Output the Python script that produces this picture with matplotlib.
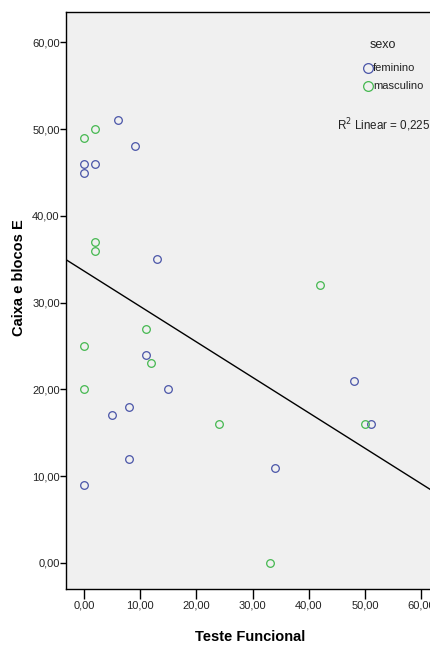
import numpy as np
import matplotlib
matplotlib.use("Agg")
import matplotlib.pyplot as plt

plt.rcParams['font.family'] = ['Liberation Sans', 'DejaVu Sans']

fem_x = [6, 9, 0, 0, 2, 13, 11, 15, 8, 5, 8, 0, 34, 48, 51]
fem_y = [51, 48, 46, 45, 46, 35, 24, 20, 18, 17, 12, 9, 11, 21, 16]
mas_x = [0, 2, 2, 2, 42, 11, 0, 12, 0, 24, 50, 33]
mas_y = [49, 50, 37, 36, 32, 27, 25, 23, 20, 16, 16, 0]
ticks = [0, 10, 20, 30, 40, 50, 60]
tick_labels = ["0,00", "10,00", "20,00", "30,00", "40,00", "50,00", "60,00"]
groups = ["feminino", "masculino"]

blue = "#4a55a8"
green = "#45b850"
txt = "#222222"

fig = plt.figure(figsize=(4.31, 6.48), dpi=100)
fig.patch.set_facecolor("white")
ax = fig.add_axes([0.153, 0.091, 0.86, 0.8905])
ax.set_facecolor("#f0f0f0")

ax.plot(fem_x, fem_y, 'o', mfc='none', mec=blue, ms=5.5, mew=0.9)
ax.plot(mas_x, mas_y, 'o', mfc='none', mec=green, ms=5.5, mew=0.9)

allx = np.array(fem_x + mas_x, float)
ally = np.array(fem_y + mas_y, float)
b, a = np.polyfit(allx, ally, 1)
xl = np.array([-3.2, 64])
ax.plot(xl, a + b * xl, color='black', lw=1.0)

ax.set_xlim(-3.2, 62.7)
ax.set_ylim(-3.0, 63.5)
ax.set_xticks(ticks)
ax.set_xticklabels(tick_labels)
ax.set_yticks(ticks)
ax.set_yticklabels(tick_labels)
ax.tick_params(axis='both', labelsize=8, width=1.0, color='black', labelcolor=txt)
ax.tick_params(axis='y', length=4, pad=0.5)
ax.tick_params(axis='x', length=7, pad=1)
for s in ax.spines.values():
    s.set_linewidth(1.0)
    s.set_color('black')

ax.set_xlabel("Teste Funcional", fontsize=10.5, fontweight='bold')
ax.xaxis.set_label_coords(0.497, -0.071)
ax.set_ylabel("Caixa e blocos E", fontsize=10.5, fontweight='bold')
ax.yaxis.set_label_coords(-0.108, 0.54)

# legend (manual, SPSS style)
ax.text(0.855, 0.943, "sexo", transform=ax.transAxes, fontsize=9, ha='center', va='center', color=txt)
ax.plot([0.815], [0.903], 'o', mfc='none', mec=blue, ms=7, mew=0.9, transform=ax.transAxes, clip_on=False)
ax.plot([0.815], [0.872], 'o', mfc='none', mec=green, ms=7, mew=0.9, transform=ax.transAxes, clip_on=False)
ax.text(0.828, 0.903, groups[0], transform=ax.transAxes, fontsize=8, ha='left', va='center', color=txt)
ax.text(0.828, 0.872, groups[1], transform=ax.transAxes, fontsize=8, ha='left', va='center', color=txt)

ax.text(0.731, 0.804, r"R$^2$ Linear = 0,225", transform=ax.transAxes, fontsize=8.4,
        ha='left', va='center', color=txt)

fig.savefig("out.png", dpi=100, facecolor="white")
